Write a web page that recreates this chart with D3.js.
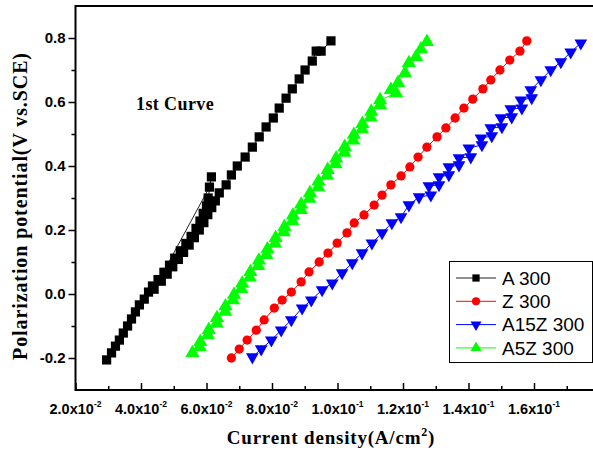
<!DOCTYPE html>
<meta charset="utf-8">
<style>
    body { margin: 0; background: #fff; }
    text { fill: #000; }
</style>

<script src="https://d3js.org/d3.v7.min.js"></script>

<div id="chart"></div>

<script>
    // legend names
    var seriesNames = ["A 300", "Z 300", "A15Z 300", "A5Z 300"];

    // current density (A/cm2) and polarization potential (V vs.SCE)
    // A 300 climbs, jumps back from the spike near 0.36 V and climbs again
    var aCurrent = [0.0295, 0.0310, 0.0322, 0.0334, 0.0346, 0.0359, 0.0371, 0.0383, 0.0395, 0.0410, 0.0423, 0.0435,
        0.0452, 0.0470, 0.0487, 0.0503, 0.0520, 0.0537, 0.0553, 0.0568, 0.0580, 0.0590, 0.0600, 0.0605,
        0.0615, 0.0609,
        0.0440, 0.0462, 0.0480, 0.0497, 0.0514, 0.0530, 0.0547, 0.0563, 0.0578, 0.0592, 0.0604, 0.0616, 0.0627,
        0.0639, 0.0660, 0.0676, 0.0694, 0.0718, 0.0740, 0.0761, 0.0782, 0.0804, 0.0822,
        0.0843, 0.0862, 0.0883, 0.0901, 0.0923, 0.0935, 0.0950, 0.0980];
    var aPotential = [-0.206, -0.184, -0.163, -0.144, -0.122, -0.100, -0.078, -0.056, -0.034, -0.016, 0.006, 0.025,
        0.045, 0.068, 0.090, 0.112, 0.135, 0.158, 0.180, 0.205, 0.228, 0.252, 0.275, 0.300,
        0.366, 0.334,
        0.015, 0.040, 0.062, 0.085, 0.108, 0.130, 0.153, 0.176, 0.200, 0.223, 0.248, 0.270, 0.291,
        0.316, 0.341, 0.372, 0.400, 0.428, 0.459, 0.491, 0.522, 0.550, 0.581,
        0.612, 0.641, 0.672, 0.700, 0.728, 0.759, 0.759, 0.791];

    var zCurrent = [0.0676, 0.0700, 0.0724, 0.0752, 0.0776, 0.0807, 0.0831, 0.0859, 0.0889, 0.0913, 0.0944, 0.0971,
        0.0999, 0.1029, 0.1051, 0.1081, 0.1112, 0.1136, 0.1163, 0.1194, 0.1221, 0.1246, 0.1273, 0.1304, 0.1331,
        0.1359, 0.1386, 0.1413, 0.1444, 0.1468, 0.1496, 0.1526, 0.1557, 0.1578];
    var zPotential = [-0.200, -0.172, -0.144, -0.113, -0.081, -0.044, -0.019, 0.006, 0.038, 0.069, 0.100, 0.128,
        0.159, 0.191, 0.222, 0.247, 0.278, 0.309, 0.341, 0.369, 0.397, 0.428, 0.459, 0.491, 0.519,
        0.550, 0.581, 0.609, 0.641, 0.669, 0.700, 0.731, 0.759, 0.791];

    var a15zCurrent = [0.0740, 0.0767, 0.0798, 0.0828, 0.0859, 0.0892, 0.0920, 0.0953, 0.0984, 0.1014, 0.1045, 0.1075,
        0.1105, 0.1136, 0.1166, 0.1194, 0.1218, 0.1249, 0.1285, 0.1279, 0.1310, 0.1310, 0.1340, 0.1340, 0.1371,
        0.1371, 0.1407, 0.1401, 0.1441, 0.1438, 0.1471, 0.1468, 0.1502, 0.1499, 0.1532, 0.1529, 0.1563, 0.1560,
        0.1593, 0.1590, 0.1621, 0.1651, 0.1682, 0.1712, 0.1743];
    var a15zPotential = [-0.197, -0.172, -0.144, -0.113, -0.081, -0.044, -0.019, 0.013, 0.034, 0.066, 0.097, 0.128,
        0.159, 0.191, 0.222, 0.241, 0.278, 0.303, 0.309, 0.338, 0.341, 0.366, 0.372, 0.397, 0.403,
        0.425, 0.428, 0.456, 0.466, 0.487, 0.494, 0.519, 0.522, 0.550, 0.553, 0.578, 0.581, 0.606,
        0.613, 0.638, 0.669, 0.700, 0.725, 0.756, 0.784];

    var a5zCurrent = [0.0557, 0.0579, 0.0581, 0.0604, 0.0607, 0.0631, 0.0632, 0.0657, 0.0658, 0.0681, 0.0684, 0.0706,
        0.0709, 0.0732, 0.0734, 0.0758, 0.0760, 0.0783, 0.0786, 0.0809, 0.0811, 0.0836, 0.0838, 0.0862, 0.0864,
        0.0888, 0.0889, 0.0914, 0.0916, 0.0941, 0.0942, 0.0968, 0.0970, 0.0994, 0.0996, 0.1021, 0.1022, 0.1048,
        0.1050, 0.1075, 0.1076, 0.1101, 0.1103, 0.1130, 0.1130, 0.1179, 0.1163, 0.1185, 0.1206, 0.1218, 0.1240,
        0.1255, 0.1273];
    var a5zPotential = [-0.184, -0.165, -0.150, -0.128, -0.112, -0.092, -0.075, -0.055, -0.038, -0.019, -0.002, 0.016,
        0.033, 0.052, 0.069, 0.088, 0.105, 0.122, 0.140, 0.158, 0.175, 0.193, 0.210, 0.228, 0.246,
        0.263, 0.280, 0.298, 0.316, 0.334, 0.352, 0.370, 0.388, 0.406, 0.424, 0.442, 0.460, 0.480,
        0.498, 0.515, 0.532, 0.552, 0.570, 0.590, 0.606, 0.628, 0.638, 0.660, 0.690, 0.722, 0.741,
        0.765, 0.788];

    // ticks
    var xTicks = [0.02, 0.04, 0.06, 0.08, 0.10, 0.12, 0.14, 0.16];
    var xTickLabels = [["2.0", "-2"], ["4.0", "-2"], ["6.0", "-2"], ["8.0", "-2"],
        ["1.0", "-1"], ["1.2", "-1"], ["1.4", "-1"], ["1.6", "-1"]];
    var xMinorTicks = [0.03, 0.05, 0.07, 0.09, 0.11, 0.13, 0.15, 0.17];
    var yTicks = [-0.2, 0.0, 0.2, 0.4, 0.6, 0.8];
    var yTickLabels = ["-0.2", "0.0", "0.2", "0.4", "0.6", "0.8"];
    var yMinorTicks = [-0.1, 0.1, 0.3, 0.5, 0.7];

    var series = [
        { name: seriesNames[0], x: aCurrent, y: aPotential, color: "#000000", line: "#222222", symbol: d3.symbolSquare, size: 85, rot: 0 },
        { name: seriesNames[1], x: zCurrent, y: zPotential, color: "#ff0000", line: "#ff0000", symbol: d3.symbolCircle, size: 68, rot: 0 },
        { name: seriesNames[2], x: a15zCurrent, y: a15zPotential, color: "#0000ff", line: "#0000ff", symbol: d3.symbolTriangle, size: 70, rot: 180 },
        { name: seriesNames[3], x: a5zCurrent, y: a5zPotential, color: "#00ff00", line: "#00ff00", symbol: d3.symbolTriangle, size: 88, rot: 0 }
    ];

    var W = 593, H = 461;
    var plot = { left: 75.5, top: 6, bottom: 390 };

    var svg = d3.select("#chart")
        .append("svg")
        .attr("width", W)
        .attr("height", H);

    var x = d3.scaleLinear()
        .domain([0.02, 0.18])
        .range([plot.left, plot.left + 0.16 * 3275]);

    var y = d3.scaleLinear()
        .domain([-0.3, 0.9])
        .range([plot.bottom, plot.top]);

    // series: thin line then markers
    series.forEach(function(s) {
        var pts = s.x.map(function(v, i) { return [v, s.y[i]]; });
        svg.append("path")
            .datum(pts)
            .attr("fill", "none")
            .attr("stroke", s.line)
            .attr("stroke-width", 1)
            .attr("d", d3.line()
                .x(function(d) { return x(d[0]); })
                .y(function(d) { return y(d[1]); }));
        svg.selectAll(null)
            .data(pts)
            .enter()
            .append("path")
            .attr("d", d3.symbol().type(s.symbol).size(s.size))
            .attr("transform", function(d) {
                return "translate(" + x(d[0]) + "," + y(d[1]) + ") rotate(" + s.rot + ")";
            })
            .attr("fill", s.color);
    });

    // frame (right side falls outside the picture)
    svg.append("rect")
        .attr("x", plot.left)
        .attr("y", plot.top)
        .attr("width", x(0.18) - plot.left)
        .attr("height", plot.bottom - plot.top)
        .attr("fill", "none")
        .attr("stroke", "#000")
        .attr("stroke-width", 2);

    // Y axis, ticks outward
    var yAxis = svg.append("g")
        .attr("transform", "translate(" + plot.left + ",0)")
        .call(d3.axisLeft(y).tickValues(yTicks).tickSize(7).tickPadding(3)
            .tickFormat(function(d, i) { return yTickLabels[i]; }));
    yAxis.select(".domain").remove();
    yAxis.selectAll("line").attr("stroke-width", 1.5);
    yAxis.selectAll("text")
        .attr("font-family", "Liberation Sans, Arial, sans-serif")
        .attr("font-weight", "bold")
        .attr("font-size", "15px");

    var yMinor = svg.append("g")
        .attr("transform", "translate(" + plot.left + ",0)")
        .call(d3.axisLeft(y).tickValues(yMinorTicks).tickSize(4).tickFormat(""));
    yMinor.select(".domain").remove();
    yMinor.selectAll("line").attr("stroke-width", 1.5);

    // X axis, ticks inward
    var xAxis = svg.append("g")
        .attr("transform", "translate(0," + plot.bottom + ")")
        .call(d3.axisBottom(x).tickValues(xTicks).tickSize(-7).tickFormat(""));
    xAxis.select(".domain").remove();
    xAxis.selectAll("line").attr("stroke-width", 1.5);

    var xMinor = svg.append("g")
        .attr("transform", "translate(0," + plot.bottom + ")")
        .call(d3.axisBottom(x).tickValues(xMinorTicks).tickSize(-4).tickFormat(""));
    xMinor.select(".domain").remove();
    xMinor.selectAll("line").attr("stroke-width", 1.5);

    // x tick labels with exponent
    var xl = svg.append("g")
        .selectAll("text")
        .data(xTicks)
        .enter()
        .append("text")
        .attr("x", function(d) { return x(d); })
        .attr("y", plot.bottom + 24)
        .attr("text-anchor", "middle")
        .attr("font-family", "Liberation Sans, Arial, sans-serif")
        .attr("font-weight", "bold")
        .attr("font-size", "14.5px");
    xl.append("tspan").text(function(d, i) { return xTickLabels[i][0] + "x10"; });
    xl.append("tspan")
        .attr("dy", -7)
        .attr("font-size", "8.5px")
        .text(function(d, i) { return xTickLabels[i][1]; });

    // axis titles
    var xt = svg.append("text")
        .attr("x", 331)
        .attr("y", 444)
        .attr("text-anchor", "middle")
        .attr("font-family", "Liberation Serif, Times New Roman, serif")
        .attr("font-weight", "bold")
        .attr("font-size", "19px")
        .style("letter-spacing", "0.8px");
    xt.append("tspan").text("Current density(A/cm");
    xt.append("tspan").attr("dy", -8).attr("font-size", "12px").text("2");
    xt.append("tspan").attr("dy", 8).text(")");

    svg.append("text")
        .attr("transform", "translate(27,206) rotate(-90)")
        .attr("text-anchor", "middle")
        .attr("font-family", "Liberation Serif, Times New Roman, serif")
        .attr("font-weight", "bold")
        .attr("font-size", "20px")
        .style("letter-spacing", "0.9px")
        .text("Polarization potential(V vs.SCE)");

    svg.append("text")
        .attr("x", 136)
        .attr("y", 110)
        .attr("font-family", "Liberation Serif, Times New Roman, serif")
        .attr("font-weight", "bold")
        .attr("font-size", "18px")
        .style("letter-spacing", "0.4px")
        .text("1st Curve");

    // legend
    var lg = svg.append("g");
    lg.append("rect")
        .attr("x", 449.5)
        .attr("y", 261.5)
        .attr("width", 143)
        .attr("height", 101)
        .attr("fill", "#fff")
        .attr("stroke", "#000")
        .attr("stroke-width", 1);

    series.forEach(function(s, i) {
        var ly = 278 + i * 23.3;
        lg.append("line")
            .attr("x1", 456).attr("x2", 496)
            .attr("y1", ly).attr("y2", ly)
            .attr("stroke", s.line)
            .attr("stroke-width", 1);
        lg.append("path")
            .attr("d", d3.symbol().type(s.symbol).size(Math.min(s.size, 70) * 0.75))
            .attr("transform", "translate(476," + ly + ") rotate(" + s.rot + ")")
            .attr("fill", s.color);
        lg.append("text")
            .attr("x", 502)
            .attr("y", ly)
            .attr("dy", "0.36em")
            .attr("font-family", "Liberation Sans, Arial, sans-serif")
            .attr("font-size", "19px")
            .text(s.name);
    });
</script>
